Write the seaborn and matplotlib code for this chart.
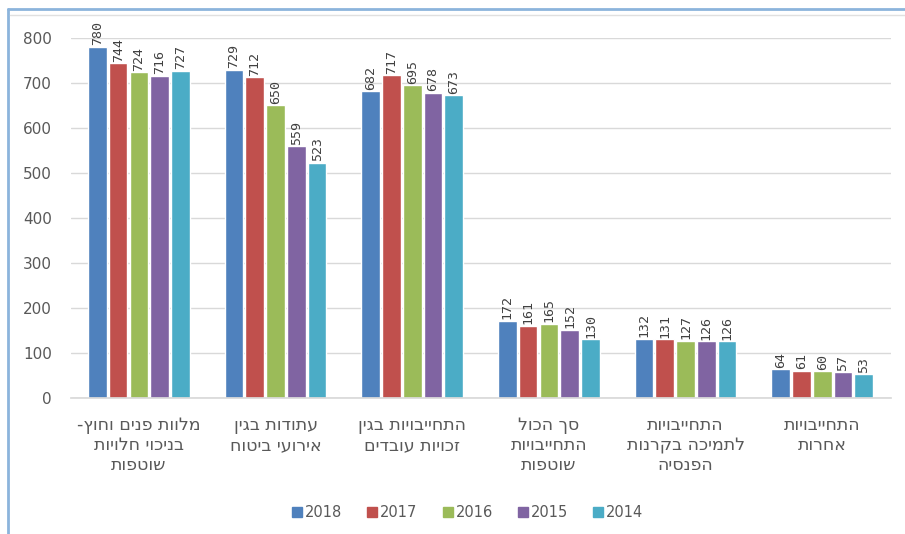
import matplotlib
matplotlib.use("Agg")
import matplotlib.pyplot as plt
import seaborn as sns
import pandas as pd
from matplotlib.lines import Line2D

sns.set_theme(style="white")
plt.rcParams['font.family'] = ['DejaVu Sans']

# קטגוריות (בסדר לוגי, ימין-לשמאל)
categories = [
    "מלוות פנים וחוץ-\nבניכוי חלויות\nשוטפות",
    "עתודות בגין\nאירועי ביטוח",
    "התחייבויות בגין\nזכויות עובדים",
    "סך הכול\nהתחייבויות\nשוטפות",
    "התחייבויות\nלתמיכה בקרנות\nהפנסיה",
    "התחייבויות\nאחרות",
]
years = ["2018", "2017", "2016", "2015", "2014"]
v2018 = [780, 729, 682, 172, 132, 64]
v2017 = [744, 712, 717, 161, 131, 61]
v2016 = [724, 650, 695, 165, 127, 60]
v2015 = [716, 559, 678, 152, 126, 57]
v2014 = [727, 523, 673, 130, 126, 53]
colors = ["#4F81BD", "#C0504D", "#9BBB59", "#8064A2", "#4BACC6"]


def rtl(s):
    # matplotlib אינו תומך ב-bidi, לכן הופכים כל שורה
    return "\n".join(line[::-1] for line in s.split("\n"))


labels = [rtl(c) for c in categories]
rows = []
for year, vals in zip(years, [v2018, v2017, v2016, v2015, v2014]):
    for lab, v in zip(labels, vals):
        rows.append({"cat": lab, "year": year, "value": v})
df = pd.DataFrame(rows)

fig = plt.figure(figsize=(9.05, 5.34), dpi=100)
ax = fig.add_axes([0.078, 0.2547, 0.906, 0.6745])

sns.barplot(data=df, x="cat", y="value", hue="year", hue_order=years,
            order=labels, palette=colors, width=0.76, gap=0.1,
            saturation=1, ax=ax, legend=False)

for cont in ax.containers:
    ax.bar_label(cont, rotation=90, padding=1, fontsize=9.5,
                 fontfamily="DejaVu Sans Mono", color="#404040")

ax.set_ylim(0, 800)
ax.set_yticks(range(0, 801, 100))
ax.yaxis.grid(True, color="#D9D9D9", linewidth=1)
ax.set_axisbelow(True)
for s in ["top", "right", "left"]:
    ax.spines[s].set_visible(False)
ax.spines["bottom"].set_color("#D9D9D9")
ax.set_xlabel("")
ax.set_ylabel("")
ax.tick_params(axis="y", labelsize=11, colors="#595959", length=0, pad=13.5)
ax.tick_params(axis="x", labelsize=12.5, colors="#595959", length=0, pad=13)
for t in ax.get_xticklabels():
    t.set_linespacing(1.15)
ax.set_xlim(-0.5, 5.5)

handles = [Line2D([], [], marker="s", linestyle="", color=c, markersize=7)
           for c in colors]
fig.legend(handles, years, loc="center", bbox_to_anchor=(0.515, 0.041),
           ncol=5, frameon=False, fontsize=10.5, handletextpad=0.0,
           columnspacing=1.5, handlelength=1.1, labelcolor="#595959")

# מסגרת התרשים
fig.add_artist(Line2D([8 / 905, 1], [1 - 9 / 534, 1 - 9 / 534],
                      color="#8CB4DC", linewidth=2, transform=fig.transFigure))
fig.add_artist(Line2D([8 / 905, 8 / 905], [0, 1 - 9 / 534],
                      color="#8CB4DC", linewidth=2, transform=fig.transFigure))
fig.add_artist(Line2D([10 / 905, 1], [1 - 15 / 534, 1 - 15 / 534],
                      color="#E0E0E0", linewidth=1, transform=fig.transFigure))

fig.savefig("out.png", dpi=100)
